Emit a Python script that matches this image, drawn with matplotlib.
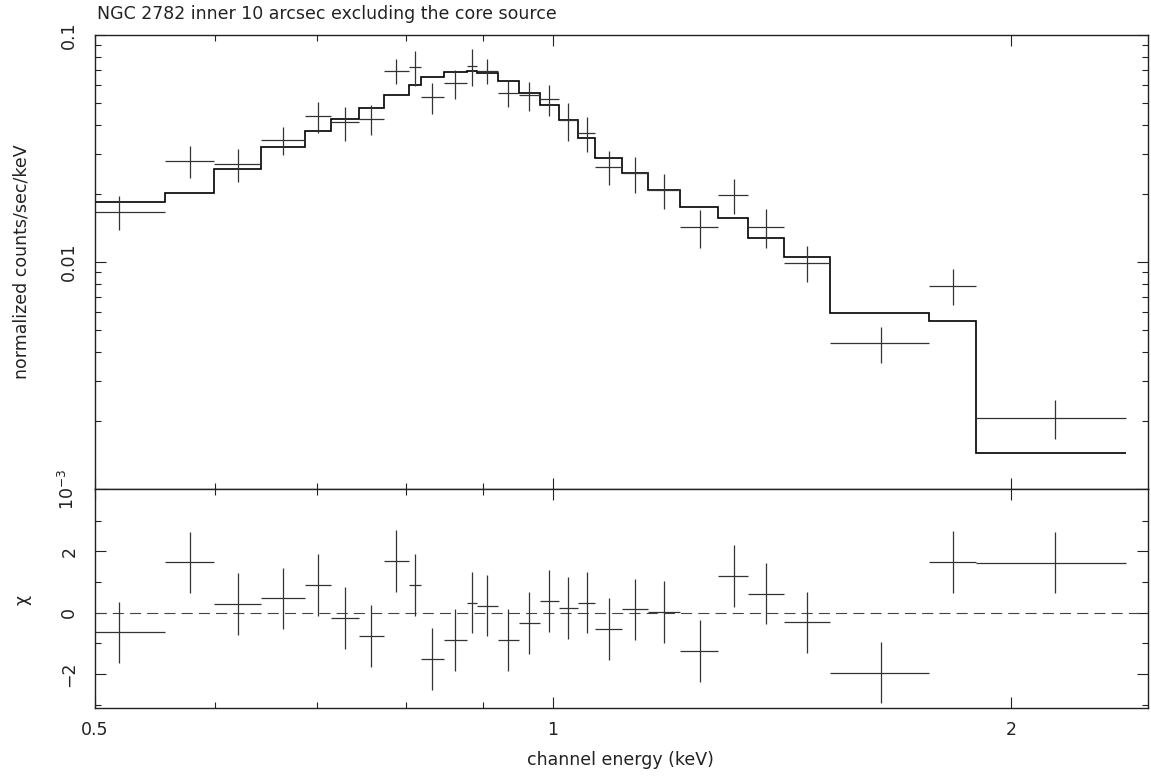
import matplotlib.pyplot as plt
import numpy as np
from matplotlib.ticker import NullFormatter

# channel bin edges (keV), 28 bins
edges = [0.481, 0.5556, 0.5989, 0.6432, 0.6867, 0.7150, 0.7451, 0.7741,
         0.8038, 0.8184, 0.8474, 0.8778, 0.8907, 0.9195, 0.9491, 0.9800,
         1.0087, 1.0380, 1.0660, 1.1101, 1.1540, 1.2119, 1.2844, 1.3437,
         1.4172, 1.5196, 1.7665, 1.8971, 2.3802]

# normalized counts/sec/keV and 1-sigma errors
rate = [0.01666, 0.02786, 0.02694, 0.03446, 0.04397, 0.04124, 0.04266,
        0.06962, 0.07249, 0.05316, 0.06127, 0.07322, 0.06962, 0.05536,
        0.05425, 0.05210, 0.04210, 0.03712, 0.02630, 0.02459, 0.02076,
        0.01426, 0.01973, 0.01430, 0.00993, 0.004384, 0.007862, 0.002061]
rate_err = [0.0028, 0.0045, 0.0045, 0.0050, 0.0069, 0.0071, 0.0065,
            0.0087, 0.0128, 0.0081, 0.0089, 0.0133, 0.0085, 0.0072,
            0.0080, 0.0079, 0.0081, 0.0065, 0.0045, 0.0045, 0.0037,
            0.0027, 0.0034, 0.0028, 0.0018, 0.00079, 0.00142, 0.0004]

# folded model
model = [0.01843, 0.02008, 0.02561, 0.03210, 0.03765, 0.04279, 0.04783,
         0.05458, 0.06022, 0.06512, 0.06892, 0.06962, 0.06823, 0.06291,
         0.05569, 0.04915, 0.04223, 0.03507, 0.02871, 0.02459, 0.02076,
         0.01752, 0.01567, 0.01279, 0.01049, 0.005943, 0.005495, 0.001437]

# residuals in units of sigma
chi = [-0.64, 1.64, 0.29, 0.47, 0.90, -0.17, -0.76, 1.68, 0.90, -1.50,
       -0.88, 0.33, 0.23, -0.89, -0.33, 0.39, 0.15, 0.33, -0.53, 0.11,
       0.02, -1.24, 1.20, 0.62, -0.31, -1.95, 1.65, 1.63]
chi_err = [1.0] * len(chi)

lo = np.array(edges[:-1])
hi = np.array(edges[1:])
en = 0.5 * (lo + hi)
xerr = [en - lo, hi - en]

ink = '#222222'
plt.rcParams['font.family'] = ['DejaVu Sans']
fs = 12.5

fig = plt.figure(figsize=(11.51, 7.80), dpi=100)
ax1 = fig.add_axes([0.0825, 0.3731, 0.9149, 0.5820])
ax2 = fig.add_axes([0.0825, 0.0923, 0.9149, 0.2808])

ax1.stairs(model, edges, color='black', lw=1.2, baseline=None)
ax1.errorbar(en, rate, xerr=xerr, yerr=rate_err, fmt='none',
             ecolor='#333333', elinewidth=0.9, capsize=0)

ax2.axhline(0, color='#444444', lw=0.8, ls=(0, (10, 5.5)))
ax2.errorbar(en, chi, xerr=xerr, yerr=chi_err, fmt='none',
             ecolor='#333333', elinewidth=0.9, capsize=0)

for ax in (ax1, ax2):
    ax.set_xscale('log')
    ax.set_xlim(0.5, 2.46)
    ax.set_xticks([0.5, 1, 2], ['0.5', '1', '2'])
    ax.set_xticks([0.6, 0.7, 0.8, 0.9], minor=True)
    ax.xaxis.set_minor_formatter(NullFormatter())
    ax.tick_params(which='both', direction='in', top=True, right=True,
                   color=ink, width=0.8, labelsize=fs, labelcolor=ink)
    ax.tick_params(which='major', length=8)
    ax.tick_params(which='minor', length=4.5)
    ax.tick_params(axis='y', pad=12)
    ax.tick_params(axis='x', pad=9)
    for sp in ax.spines.values():
        sp.set_color(ink)
        sp.set_linewidth(1.0)

ax1.set_yscale('log')
ax1.set_ylim(1e-3, 0.1)
ax1.set_yticks([1e-3, 1e-2, 1e-1], ['10$^{-3}$', '0.01', '0.1'])
ax1.yaxis.set_minor_formatter(NullFormatter())
ax1.tick_params(axis='x', labelbottom=False)

ax2.set_ylim(-3.1, 4.03)
ax2.set_yticks([-2, 0, 2], ['\u22122', '0', '2'])
ax2.set_yticks([-3, -1, 1, 3], minor=True)

for ax in (ax1, ax2):
    plt.setp(ax.get_yticklabels(), rotation=90, va='center')

fig.text(97 / 1151, 1 - 14 / 780,
         'NGC 2782 inner 10 arcsec excluding the core source',
         ha='left', va='center', fontsize=fs, color=ink)
fig.text(22 / 1151, 1 - 262 / 780, 'normalized counts/sec/keV',
         rotation=90, ha='center', va='center', fontsize=fs, color=ink)
fig.text(22 / 1151, 1 - 600 / 780, '\u03c7',
         rotation=90, ha='center', va='center', fontsize=fs, color=ink)
fig.text(620 / 1151, 1 - 760 / 780, 'channel energy (keV)',
         ha='center', va='center', fontsize=fs, color=ink)

fig.savefig('out.png', dpi=100)
